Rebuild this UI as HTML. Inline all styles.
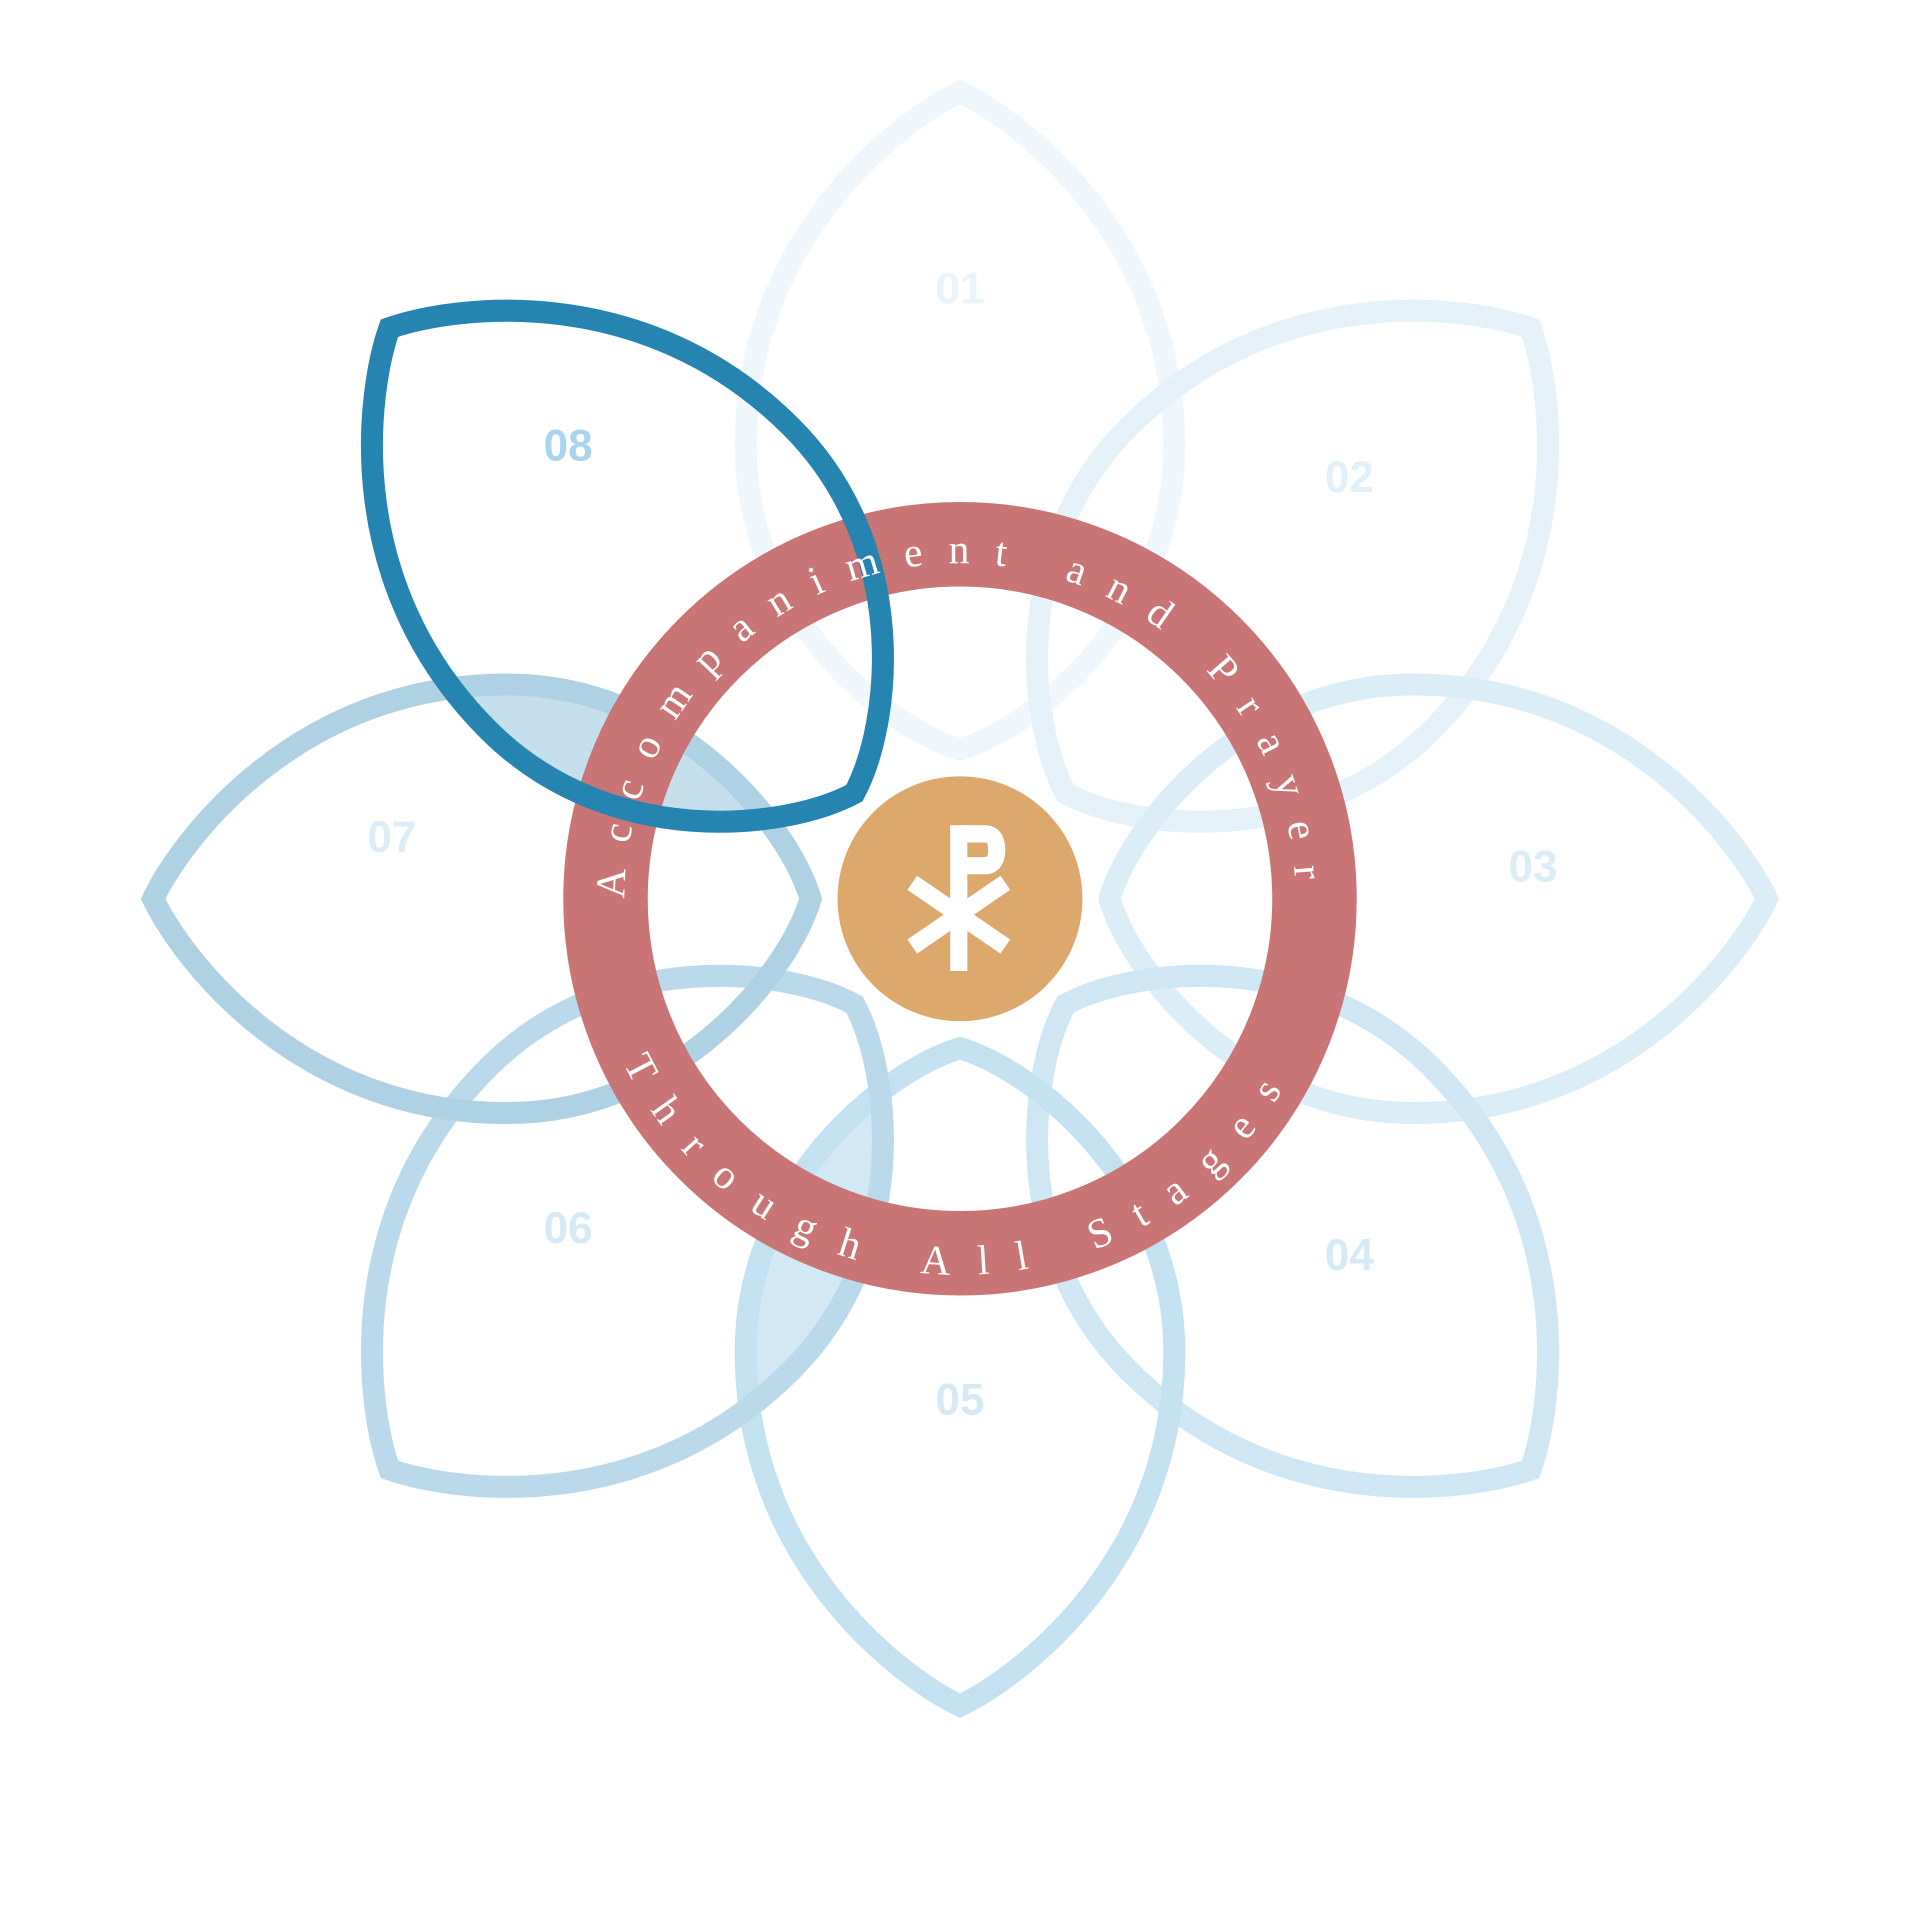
<!DOCTYPE html>
<html><head><meta charset="utf-8"><style>
html,body{margin:0;padding:0;background:#fff;width:1920px;height:1920px;overflow:hidden}
svg{display:block}
.n{font-family:"Liberation Sans",sans-serif;font-weight:bold;font-size:36px;text-anchor:middle}
.t{font-family:"Liberation Serif",serif;font-size:34px;fill:#fff}
</style></head><body>
<svg width="1920" height="1920" viewBox="0 0 1568 1568" xmlns="http://www.w3.org/2000/svg">
<defs>
<path id="pt" d="M0,-122 C60,-140 175,-230 175,-370 C175,-540 50,-635 0,-659 C-50,-635 -175,-540 -175,-370 C-175,-230 -60,-140 0,-122 Z"/>
<clipPath id="c8"><use href="#pt" transform="translate(784,734) rotate(-45)"/></clipPath>
<clipPath id="c6"><use href="#pt" transform="translate(784,734) rotate(-135)"/></clipPath>
<path id="top" d="M 510,734 A 274 274 0 0 1 1058,734"/>
<path id="bot" d="M 509,868 A 305 305 0 0 0 1059,868"/>
</defs>
<g clip-path="url(#c8)"><use href="#pt" transform="translate(784,734) rotate(-90)" fill="#c5dfec"/></g>
<g clip-path="url(#c6)"><use href="#pt" transform="translate(784,734) rotate(180)" fill="#d2e8f5"/></g>
<g transform="translate(784,734)" fill="none" stroke-width="18" stroke-linejoin="miter">
<use href="#pt" transform="rotate(0)" stroke="#f0f7fc"/>
<use href="#pt" transform="rotate(45)" stroke="#e6f2fa"/>
<use href="#pt" transform="rotate(90)" stroke="#dbeef8"/>
<use href="#pt" transform="rotate(135)" stroke="#cfe7f5"/>
<use href="#pt" transform="rotate(180)" stroke="#c4e1f2"/>
<use href="#pt" transform="rotate(225)" stroke="#badaec"/>
<use href="#pt" transform="rotate(270)" stroke="#afd1e4"/>
</g>
<g class="n">
<text x="784" y="248" fill="#eaf4fb">01</text>
<text x="1102" y="402" fill="#e2f0f9">02</text>
<text x="1252" y="720" fill="#dcedf8">03</text>
<text x="1102" y="1037" fill="#d6eaf6">04</text>
<text x="784" y="1155" fill="#d6eaf6">05</text>
<text x="464" y="1015" fill="#d6eaf6">06</text>
<text x="320" y="696" fill="#dcedf8">07</text>
<text x="464" y="376" fill="#a9d5ee">08</text>
</g>
<circle cx="784" cy="734" r="289.5" fill="none" stroke="#c97575" stroke-width="69"/>
<use href="#pt" transform="translate(784,734) rotate(-45)" fill="none" stroke="#2684b0" stroke-width="18"/>
<text class="t"><textPath href="#top" textLength="845" lengthAdjust="spacing">Accompaniment and Prayer</textPath></text>
<text class="t"><textPath href="#bot" textLength="660" lengthAdjust="spacing">Through All Stages</textPath></text>
<circle cx="784" cy="734" r="100" fill="#dca86b"/>
<g fill="none" stroke="#fff" stroke-width="14">
<line x1="783" y1="674" x2="783" y2="793"/>
<path d="M783,681 H804 Q814,681 814,694 Q814,707 804,707 H783"/>
<line x1="745" y1="721" x2="821" y2="773"/>
<line x1="821" y1="721" x2="745" y2="773"/>
</g>
</svg>
</body></html>
